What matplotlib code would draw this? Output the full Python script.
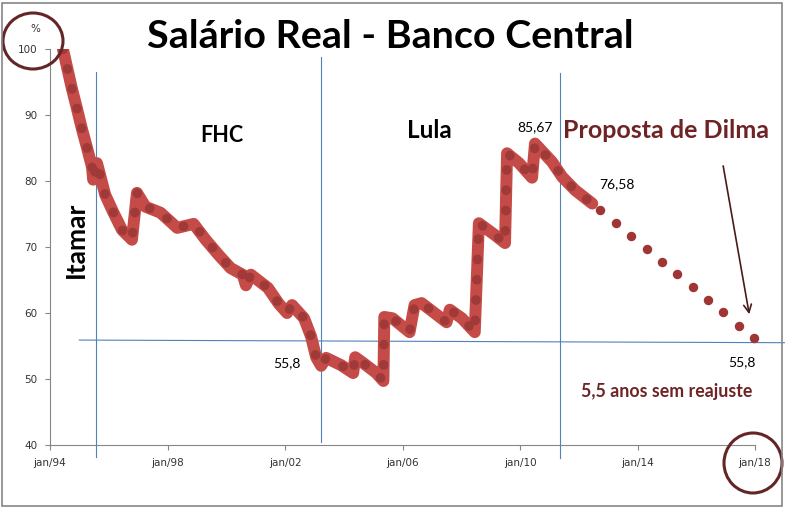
import matplotlib
matplotlib.use("Agg")
import matplotlib.pyplot as plt
from matplotlib.patches import Ellipse, Rectangle

# real wage index (jul/94 = 100), vertices
hist_years = [1994.44, 1994.74, 1994.91, 1995.08, 1995.25, 1995.43, 1995.47, 1995.60,
              1995.88, 1996.15, 1996.45, 1996.79, 1996.96, 1997.25, 1997.76, 1998.33,
              1998.89, 1999.30, 1999.74, 2000.15, 2000.56, 2000.67, 2000.84, 2001.42,
              2001.79, 2002.07, 2002.24, 2002.65, 2002.89, 2003.06, 2003.23, 2003.40,
              2003.91, 2004.32, 2004.39, 2004.67, 2005.11, 2005.35, 2005.38, 2005.66,
              2006.24, 2006.41, 2006.65, 2007.09, 2007.50, 2007.61, 2008.02, 2008.46,
              2008.60, 2009.15, 2009.49, 2009.56, 2009.97, 2010.41, 2010.51, 2011.09,
              2011.44, 2011.88, 2012.46]
hist_values = [100.0, 94.1, 91.1, 88.0, 85.2, 82.1, 80.2, 82.7,
               77.9, 75.3, 72.6, 71.1, 78.2, 76.1, 75.2, 72.9,
               73.5, 71.1, 68.8, 66.8, 65.8, 64.2, 65.8, 63.8,
               61.4, 60.0, 61.2, 59.2, 56.4, 53.3, 52.0, 53.2,
               52.1, 50.9, 53.3, 52.4, 50.9, 49.7, 59.4, 59.2,
               57.1, 61.2, 61.5, 60.0, 58.6, 60.5, 59.2, 57.1,
               73.6, 71.8, 70.6, 84.2, 82.7, 80.5, 85.67, 82.9,
               80.6, 78.6, 76.58]

# "Proposta de Dilma" projection
proj_years = [2012.74, 2013.28, 2013.79, 2014.31, 2014.82, 2015.33, 2015.88,
              2016.39, 2016.91, 2017.45, 2017.97]
proj_values = [75.6, 73.6, 71.7, 69.7, 67.7, 65.9, 63.9, 62.0, 60.2, 58.0, 56.2]

# government periods
period_lines = [1995.57, 2003.23, 2011.37]
period_top = [96.5, 98.8, 96.4]
period_bottom = [38.2, 40.45, 38.0]
ref_x = [1995.0, 2019.0]
ref_y = [55.9, 55.5]

xtick_pos = [1994, 1998, 2002, 2006, 2010, 2014, 2018]
xtick_labels = ["jan/94", "jan/98", "jan/02", "jan/06", "jan/10", "jan/14", "jan/18"]
yticks = [40, 50, 60, 70, 80, 90, 100]

FONT = "Lato"
DARKRED = "#6E2424"
BLUE = "#4F81BD"
GREY = "#868686"

W, H = 786, 512


def fx(x):
    return x / W


def fy(y):
    return 1 - y / H


fig = plt.figure(figsize=(7.86, 5.12), dpi=100)
ax = fig.add_axes([fx(50), fy(445), fx(755) - fx(50), fy(49) - fy(445)])

ax.plot(hist_years, hist_values, color="#C44B47", lw=8.6,
        solid_joinstyle="round", solid_capstyle="round", zorder=3)
ax.plot(hist_years, hist_values, color="#A03A38", lw=6.8,
        linestyle=(0, (0.05, 2.1)), dash_capstyle="round", zorder=4)
ax.plot(proj_years, proj_values, "o", color="#A03535", ms=6.8, mec="none",
        zorder=4, clip_on=False)

for x, top, bot in zip(period_lines, period_top, period_bottom):
    ax.plot([x, x], [bot, top], color=BLUE, lw=0.8, clip_on=False, zorder=2)
ax.plot(ref_x, ref_y, color=BLUE, lw=0.8, clip_on=False, zorder=2)

ax.set_xlim(1994, 2018)
ax.set_ylim(40, 100)
ax.set_xticks(xtick_pos)
ax.set_xticklabels(xtick_labels)
ax.set_yticks(yticks)
for s in ["top", "right"]:
    ax.spines[s].set_visible(False)
for s in ["left", "bottom"]:
    ax.spines[s].set_color(GREY)
    ax.spines[s].set_linewidth(0.8)
ax.tick_params(colors=GREY, length=3.5, width=0.8, labelsize=7.5, pad=5.5,
               labelcolor="#333333")

# data labels
ax.annotate("85,67", (hist_years[54], hist_values[54]), xytext=(0, 12),
            textcoords="offset points", ha="center", va="center",
            fontsize=10, family=FONT)
ax.annotate("76,58", (hist_years[-1], hist_values[-1]), xytext=(18, 14),
            textcoords="offset points", ha="center", va="center",
            fontsize=10, family=FONT)
ax.annotate("55,8", (proj_years[-1], proj_values[-1]), xytext=(-9, -17),
            textcoords="offset points", ha="center", va="center",
            fontsize=10, family=FONT)
ax.text(2002.05, 52.4, "55,8", ha="center", va="center", fontsize=10, family=FONT)

ax.annotate("", xy=(2017.82, 59.4), xytext=(2016.9, 82.7),
            arrowprops=dict(arrowstyle="->", color="#4A1A1A", lw=1.2,
                            mutation_scale=14))

fig.text(fx(390), fy(37), "Salário Real - Banco Central", ha="center", va="center",
         fontsize=28.4, fontweight="bold", family=FONT)
fig.text(fx(222), fy(135), "FHC", ha="center", va="center",
         fontsize=15.5, fontweight="bold", family=FONT)
fig.text(fx(429), fy(131), "Lula", ha="center", va="center",
         fontsize=17.5, fontweight="bold", family=FONT)
fig.text(fx(76), fy(240), "Itamar", ha="center", va="center", rotation=90,
         fontsize=19, fontweight="bold", family=FONT)
fig.text(fx(666), fy(130), "Proposta de Dilma", ha="center", va="center",
         fontsize=18, fontweight="bold", family=FONT, color=DARKRED)
fig.text(fx(667), fy(391), "5,5 anos sem reajuste", ha="center", va="center",
         fontsize=12.8, fontweight="bold", family=FONT, color=DARKRED)
fig.text(fx(35), fy(29), "%", ha="center", va="center", fontsize=7.5, color="#333333")

# highlight circles and frame
fig.patches.append(Ellipse((fx(33), fy(41)), 60 / W, 56 / H, transform=fig.transFigure,
                           fill=False, ec="#632525", lw=2.2))
fig.patches.append(Ellipse((fx(753), fy(463)), 58 / W, 60 / H, transform=fig.transFigure,
                           fill=False, ec="#632525", lw=2.2))
fig.patches.append(Rectangle((fx(2), fy(506)), fx(782) - fx(2), fy(3) - fy(506),
                             transform=fig.transFigure, fill=False, ec=GREY, lw=1.2))

fig.savefig("out.png", dpi=100)
